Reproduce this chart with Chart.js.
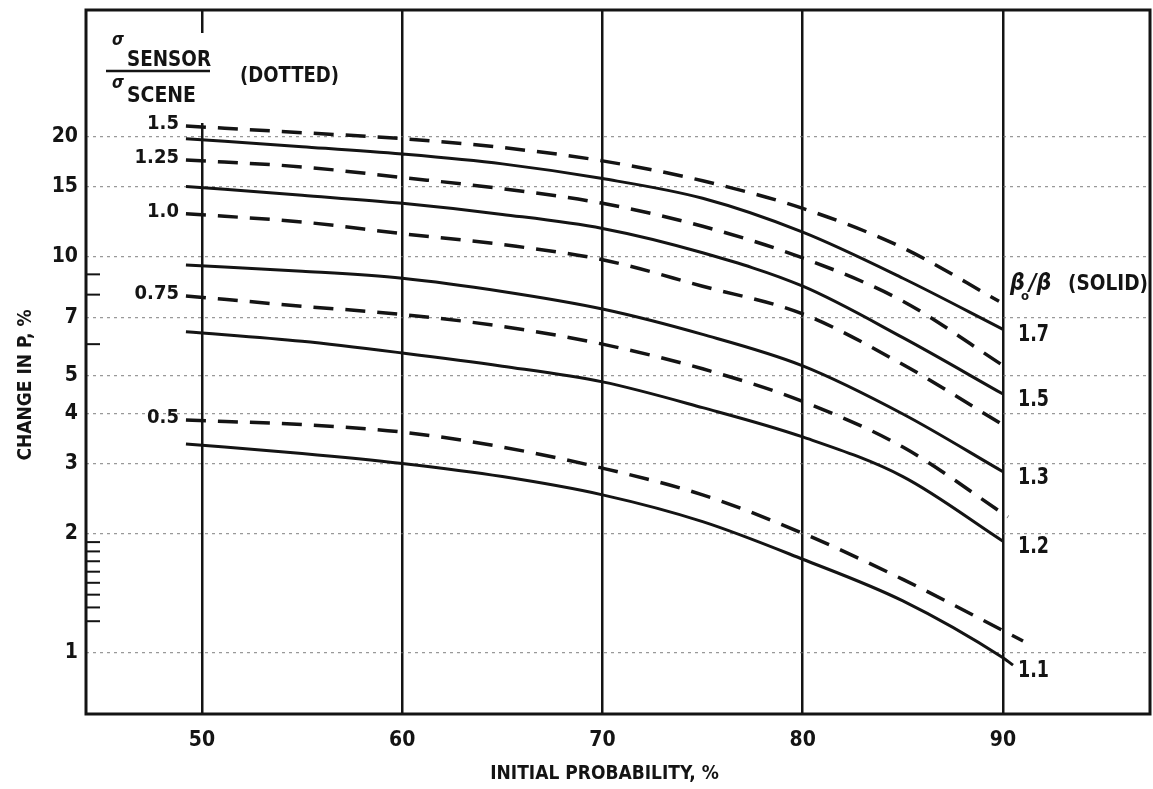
<!DOCTYPE html>
<html>
<head>
<meta charset="utf-8">
<script src="https://cdn.jsdelivr.net/npm/chart.js@4.4.1/dist/chart.umd.min.js"></script>
<style>
  html, body { margin: 0; padding: 0; background: #fff; }
  #wrap { width: 1153px; height: 789px; }
</style>
</head>
<body>
<div id="wrap"><canvas id="chart" width="1153" height="789"></canvas></div>
<script>
// Axis ticks
const xAxisTicks = [50, 60, 70, 80, 90];
const yAxisTicks = [1, 2, 3, 4, 5, 7, 10, 15, 20];
const yMinorMarks = [1.2, 1.3, 1.4, 1.5, 1.6, 1.7, 1.8, 1.9, 6, 8, 9];

// Solid curves: beta_o / beta
const solidLabels = ['1.7', '1.5', '1.3', '1.2', '1.1'];
const solidProb = [49.2, 55, 60, 65, 70, 75, 80, 85, 90];
const solidProbLong = [49.2, 55, 60, 65, 70, 75, 80, 85, 90, 90.5];
const beta17 = [19.8, 18.9, 18.1, 17.1, 15.7, 14.0, 11.5, 8.8, 6.54];
const beta15 = [15.0, 14.25, 13.6, 12.75, 11.75, 10.2, 8.4, 6.23, 4.49];
const beta13 = [9.5, 9.17, 8.8, 8.15, 7.36, 6.35, 5.29, 4.0, 2.86];
const beta12 = [6.45, 6.1, 5.7, 5.28, 4.82, 4.15, 3.5, 2.78, 1.91];
const beta11 = [3.36, 3.18, 3.0, 2.78, 2.5, 2.14, 1.72, 1.35, 0.97, 0.93];

// Dashed curves: sigma_sensor / sigma_scene
const dashedLabels = ['1.5', '1.25', '1.0', '0.75', '0.5'];
const dashedProb = [49.2, 55, 60, 65, 70, 75, 80, 85];
const dashedEndProb = [89.8, 90.0, 90.2, 90.25, 91.0];
const sigma15 = [21.3, 20.5, 19.8, 18.8, 17.4, 15.5, 13.2, 10.5, 7.7];
const sigma125 = [17.5, 16.8, 15.8, 14.8, 13.6, 11.9, 9.9, 7.7, 5.3];
const sigma10 = [12.8, 12.2, 11.4, 10.7, 9.8, 8.4, 7.15, 5.33, 3.7];
const sigma075 = [7.94, 7.48, 7.13, 6.65, 6.0, 5.2, 4.3, 3.3, 2.2];
const sigma05 = [3.86, 3.76, 3.6, 3.3, 2.92, 2.5, 2.0, 1.53, 1.07];

const FONT = '"DejaVu Sans Condensed", "DejaVu Sans", sans-serif';
const INK = '#141414';

const toPoints = (xs, ys) => ys.map((v, i) => ({ x: xs[i], y: v }));

const solidSeries = [beta17, beta15, beta13, beta12, beta11];
const dashedSeries = [sigma15, sigma125, sigma10, sigma075, sigma05];

const datasets = [];
solidSeries.forEach((ys, i) => {
  const xs = ys.length === solidProbLong.length ? solidProbLong : solidProb;
  datasets.push({
    label: 'β0/β ' + solidLabels[i],
    kind: 'solid',
    tag: solidLabels[i],
    data: toPoints(xs, ys),
    borderColor: INK,
    borderWidth: 3,
    pointRadius: 0,
    cubicInterpolationMode: 'monotone'
  });
});
dashedSeries.forEach((ys, i) => {
  const xs = dashedProb.concat([dashedEndProb[i]]);
  datasets.push({
    label: 'σsensor/σscene ' + dashedLabels[i],
    kind: 'dashed',
    tag: dashedLabels[i],
    data: toPoints(xs, ys),
    borderColor: INK,
    borderWidth: 3.5,
    borderDash: [20, 12],
    pointRadius: 0,
    cubicInterpolationMode: 'monotone'
  });
});

function txt(ctx, s, x, y, size, align, maxW, weight) {
  ctx.font = (weight || 'bold') + ' ' + size + 'px ' + FONT;
  ctx.textAlign = align || 'left';
  if (maxW) ctx.fillText(s, x, y, maxW); else ctx.fillText(s, x, y);
}

// Frame, small axis marks and all the curve/axis annotations
const notes = {
  id: 'notes',
  afterDraw(chart) {
    const { ctx, chartArea: a, scales: { x, y } } = chart;
    ctx.save();
    ctx.strokeStyle = INK;
    ctx.fillStyle = INK;

    // minor marks along the left edge
    ctx.lineWidth = 2;
    yMinorMarks.forEach(v => {
      const py = y.getPixelForValue(v);
      ctx.beginPath(); ctx.moveTo(a.left, py); ctx.lineTo(a.left + 14, py); ctx.stroke();
    });

    // frame
    ctx.lineWidth = 3;
    ctx.strokeRect(a.left, a.top, a.right - a.left, a.bottom - a.top);

    // backdrop of the ratio heading
    ctx.fillStyle = '#fff';
    ctx.fillRect(103, 33, 110, 90);
    ctx.fillStyle = INK;
    ctx.textBaseline = 'alphabetic';

    // sigma_sensor / sigma_scene (DOTTED)
    txt(ctx, 'σ', 112, 45, 17, 'left', null, 'italic bold');
    txt(ctx, 'SENSOR', 127, 66, 21, 'left', 84);
    ctx.lineWidth = 2.5;
    ctx.beginPath(); ctx.moveTo(106, 71); ctx.lineTo(210, 71); ctx.stroke();
    txt(ctx, 'σ', 112, 88, 17, 'left', null, 'italic bold');
    txt(ctx, 'SCENE', 127, 102, 21, 'left', 69);
    txt(ctx, '(DOTTED)', 240, 82, 21, 'left', 99);

    // beta_o / beta (SOLID)
    txt(ctx, 'β', 1010, 290, 23, 'left', null, 'italic bold');
    txt(ctx, 'o', 1021, 300, 13, 'left', null, 'bold');
    txt(ctx, '/β', 1029, 290, 23, 'left', null, 'italic bold');
    txt(ctx, '(SOLID)', 1068, 290, 21, 'left', 80);

    // curve tags: dashed ones at the start, solid ones after the end
    ctx.textBaseline = 'middle';
    chart.data.datasets.forEach((ds, i) => {
      const meta = chart.getDatasetMeta(i);
      if (ds.kind === 'dashed') {
        const p = meta.data[0];
        txt(ctx, ds.tag, p.x - 7, p.y - 2, 20, 'right');
      } else {
        const p = meta.data[meta.data.length - 1];
        txt(ctx, ds.tag, x.getPixelForValue(90) + 15, p.y + 6, 23, 'left', 31);
      }
    });

    // axis titles
    txt(ctx, 'INITIAL PROBABILITY, %', x.getPixelForValue(70) + 2, 774, 19, 'center', 258);
    ctx.translate(26, 385);
    ctx.rotate(-Math.PI / 2);
    txt(ctx, 'CHANGE IN P, %', 0, 0, 19, 'center', 188);
    ctx.restore();
  }
};

new Chart(document.getElementById('chart'), {
  type: 'line',
  data: { datasets },
  plugins: [notes],
  options: {
    responsive: false,
    animation: false,
    layout: { padding: { top: 10, right: 3, left: 0, bottom: 0 } },
    plugins: { legend: { display: false }, tooltip: { enabled: false } },
    scales: {
      x: {
        type: 'linear',
        min: 44.21,
        max: 97.34,
        afterBuildTicks: s => { s.ticks = xAxisTicks.map(v => ({ value: v })); },
        afterFit: s => { s.height = 75; s.paddingLeft = 0; s.paddingRight = 0; },
        grid: { color: INK, lineWidth: 2.5, drawTicks: false },
        border: { display: false },
        ticks: {
          autoSkip: false, maxRotation: 0, padding: 14, color: INK,
          font: { family: FONT, size: 21, weight: 'bold' },
          callback: v => String(v)
        }
      },
      y: {
        type: 'logarithmic',
        min: 0.72,
        max: 41.8,
        afterBuildTicks: s => { s.ticks = yAxisTicks.map(v => ({ value: v })); },
        afterFit: s => { s.width = 86; s.paddingTop = 0; s.paddingBottom = 0; },
        grid: { color: 'rgba(110,110,110,0.7)', lineWidth: 1.2, drawTicks: false },
        border: { display: false, dash: [3, 4] },
        ticks: {
          autoSkip: false, padding: 8, color: INK,
          font: { family: FONT, size: 21, weight: 'bold' },
          callback: v => String(v)
        }
      }
    }
  }
});
</script>
</body>
</html>
